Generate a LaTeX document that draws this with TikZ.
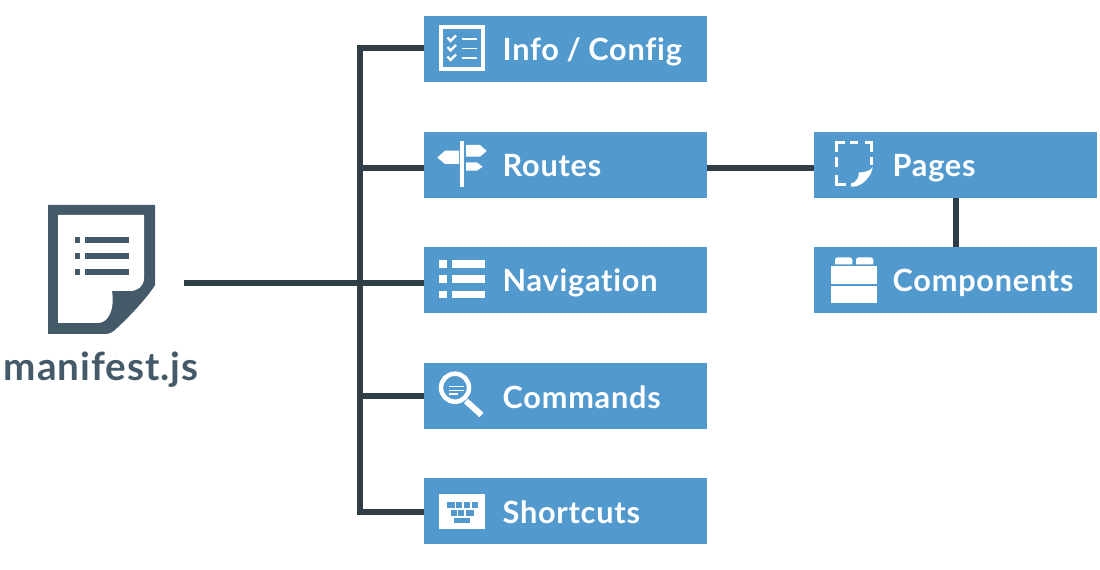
\documentclass[tikz,border=0pt]{standalone}
\usepackage{fontspec}
\setmainfont{Lato}[BoldFont=* Bold,LetterSpace=2.5,Ligatures=NoCommon]
\usepackage{tikz}
\usetikzlibrary{positioning}
\definecolor{boxblue}{HTML}{5299CE}
\definecolor{linedark}{HTML}{2F3D47}
\definecolor{docslate}{HTML}{455A68}
\tikzstyle{itembox} = [rectangle, minimum width=212.25pt, minimum height=49.5pt, inner sep=0pt, outer sep=0pt,
  fill=boxblue, text=white, font=\fontsize{23}{26}\selectfont\bfseries, text width=212.25pt, align=left,
  text height=21pt, text depth=3pt, execute at begin node=\hspace*{59pt}]
\tikzstyle{link} = [linedark, line width=4.5pt]
\tikzstyle{iconline} = [draw=white, line width=1.3pt]
\tikzstyle{dashpiece} = [draw=white, line width=2.25pt]
\tikzstyle{keycap} = [fill=boxblue, draw=none]

\begin{document}
\begin{tikzpicture}[x=0.75pt, y=-0.75pt]
  \useasboundingbox (0,0) rectangle (1100,570);

  \node (info) [itembox, anchor=north west] at (424,16) {Info\kern-2pt\ /\ \kern-2pt Config};
  \node (routes) [itembox, below=37.5pt of info] {Routes};
  \node (nav) [itembox, below=36.75pt of routes] {Navigation};
  \node (commands) [itembox, below=37.5pt of nav] {Commands};
  \node (shortcuts) [itembox, below=36.75pt of commands] {Shortcuts};
  \node (pages) [itembox, anchor=north west] at (814,132) {Pages};
  \node (components) [itembox, below=36.75pt of pages] {Components};
  \node (manifest) [text=docslate, font=\fontsize{29}{32}\selectfont\bfseries, inner sep=0pt] at (101,370) {manifest.js};

  % where the stems leave the trunk
  \coordinate (rootout) at (184,283);
  \coordinate (jinfo) at (360,48);
  \coordinate (jroutes) at (360,168);
  \coordinate (jcommands) at (360,396);
  \coordinate (jshortcuts) at (360,512);
  \coordinate (jcomp) at (956,200);

  \draw[link] (jinfo -| info.west) -- (jinfo) -- (jshortcuts) -- (jshortcuts -| shortcuts.west);
  \draw[link] (jroutes) -- (jroutes -| routes.west);
  \draw[link] (rootout) -- (rootout -| nav.west);
  \draw[link] (jcommands) -- (jcommands -| commands.west);
  \draw[link] (jroutes -| routes.east) -- (jroutes -| pages.west);
  \draw[link] (jcomp |- pages.south) -- (jcomp |- components.north);

  % manifest document
  \fill[docslate] (48,205) -- (155,205) -- (155,285) .. controls (148,297) and (128,318) .. (117,328)
    .. controls (113,332) and (110,334) .. (105,334) -- (48,334) -- cycle;
  \fill[white] (58,215) -- (144,215) -- (144,278) .. controls (144,286) and (138,291) .. (130,291)
    -- (112,291) .. controls (115,310) and (108,323) .. (98,323) -- (58,323) -- cycle;
  \foreach \rowy in {240,256,272} {
    \fill[docslate] (74.5,\rowy-2.7) rectangle (80,\rowy+2.7);
    \fill[docslate] (85.3,\rowy-2.7) rectangle (128.5,\rowy+2.7);
  }

  % info icon
  \draw[draw=white, line width=3pt] (441,27) rectangle (483,69);
  \foreach \rowy in {39,48.5,58} {
    \draw[iconline, line width=1.7pt] (447.5,\rowy-1.5) -- (450.5,\rowy+2) -- (456,\rowy-3.5);
    \draw[iconline] (462,\rowy) -- (477,\rowy);
  }

  % routes icon
  \fill[white] (460,141) rectangle (464,187);
  \fill[white] (437.3,157.5) -- (445,150.7) -- (459,150.7) -- (459,164) -- (445,164) -- cycle;
  \fill[white] (466,145) -- (480,145) -- (486.7,151) -- (480,156.7) -- (466,156.7) -- cycle;
  \fill[white] (466,162.3) -- (476.7,162.3) -- (482.7,166.7) -- (476.7,170.7) -- (466,170.7) -- cycle;

  % navigation icon
  \foreach \rowy in {260,275.3,290.7} {
    \fill[white] (439,\rowy) rectangle (446.7,\rowy+7.7);
    \fill[white] (452.3,\rowy) rectangle (485,\rowy+7.7);
  }

  % commands icon
  \draw[draw=white, line width=3.4pt] (455,387.7) circle (14);
  \draw[draw=white, line width=4.5pt] (466,401) -- (481.5,415);
  \draw[iconline, line width=1pt] (449,386.7) -- (464,386.7);
  \draw[iconline, line width=1pt] (449,390.3) -- (464,390.3);
  \draw[iconline, line width=1pt] (449,394) -- (458,394);

  % shortcuts icon
  \fill[white] (439,494.3) rectangle (485,529.3);
  \foreach \keyl/\keyr in {446.7/454.7,456/462.3,464/470,471.7/477.7}
    \fill[keycap] (\keyl,502.3) rectangle (\keyr,508);
  \foreach \keyl/\keyr in {450.7/456.7,458.3/464.3,466/473.7}
    \fill[keycap] (\keyl,510) rectangle (\keyr,516);
  \fill[keycap] (454.3,518) rectangle (470,523.3);

  % pages icon
  \draw[dashpiece] (836.7,152) -- (836.7,143) -- (845,143);
  \draw[dashpiece] (850,143) -- (858,143);
  \draw[dashpiece] (865,143) -- (871.3,143) -- (871.3,152);
  \draw[dashpiece] (871.3,157) -- (871.3,165);
  \draw[dashpiece] (836.7,157) -- (836.7,167);
  \draw[dashpiece] (836.7,175) -- (836.7,185) -- (846,185);
  \draw[dashpiece] (851,185) -- (855,185);
  \fill[white] (872.7,167) .. controls (872,176) and (862,186.7) .. (853,186.7) -- (851,186.7)
    -- (851,184) .. controls (857,182) and (860,175) .. (858.5,172.5)
    .. controls (865,172.5) and (870,171) .. (872.7,167) -- cycle;

  % components icon
  \fill[white] (835,264.3) {[rounded corners=2pt] -- (835,257.3) -- (852.3,257.3)} -- (852.3,264.3) -- cycle;
  \fill[white] (856,264.3) {[rounded corners=2pt] -- (856,257.3) -- (873.3,257.3)} -- (873.3,264.3) -- cycle;
  \fill[white] (831,266) rectangle (877,283.7);
  \fill[white] (831,285.7) rectangle (877,303);
\end{tikzpicture}
\end{document}
